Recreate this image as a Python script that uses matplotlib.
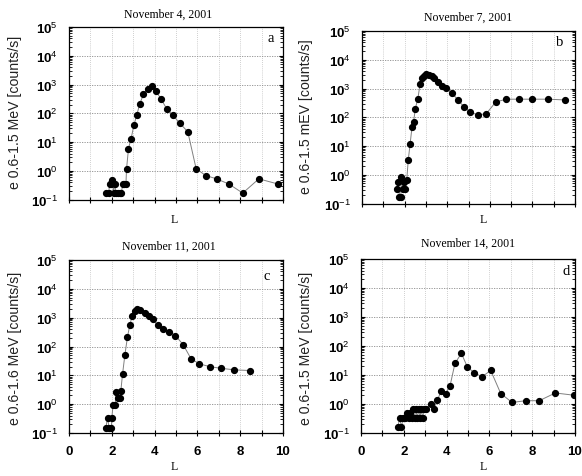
import matplotlib
matplotlib.use("Agg")
import matplotlib.pyplot as plt
import numpy as np
from matplotlib.ticker import LogLocator, FixedLocator, NullFormatter, FuncFormatter

plt.rcParams['mathtext.fontset'] = 'custom'
plt.rcParams['mathtext.rm'] = 'Liberation Sans'
plt.rcParams['mathtext.bf'] = 'Liberation Sans:bold'

# ---- data ----
titles = ["November 4, 2001", "November 7, 2001", "November 11, 2001", "November 14, 2001"]
letters = ["a", "b", "c", "d"]
ylabels = ["e 0.6-1.5 MeV [counts/s]", "e 0.6-1.5 mEV [counts/s]",
           "e 0.6-1.6 MeV [counts/s]", "e 0.6-1.5 MeV [counts/s]"]

L_a = [1.75, 1.85, 1.9, 1.97, 2.03, 2.08, 2.13, 2.2, 2.28, 2.36, 2.44, 2.52, 2.58, 2.66,
       2.69, 2.78, 2.9, 3.03, 3.16, 3.31, 3.48, 3.67, 3.86, 4.06, 4.31, 4.56, 4.86, 5.17,
       5.55, 5.94, 6.39, 6.9, 7.47, 8.12, 8.87, 9.77]
v_a = [0.17, 0.17, 0.35, 0.35, 0.5, 0.17, 0.35, 0.17, 0.17, 0.17, 0.17, 0.35, 0.35, 0.35,
       1.2, 6, 13, 38, 85, 215, 460, 720, 870, 590, 310, 145, 85, 46,
       23, 1.2, 0.69, 0.53, 0.35, 0.17, 0.53, 0.35]

L_b = [1.63, 1.70, 1.76, 1.82, 1.85, 1.92, 1.98, 2.04, 2.10, 2.17, 2.26, 2.35, 2.42, 2.5,
       2.62, 2.73, 2.83, 2.92, 3.01, 3.14, 3.27, 3.39, 3.58, 3.77, 3.96, 4.22, 4.51, 4.77,
       5.09, 5.45, 5.84, 6.28, 6.78, 7.35, 7.99, 8.71, 9.54]
v_b = [0.33, 0.54, 0.17, 0.17, 0.85, 0.33, 0.54, 0.33, 0.65, 3.2, 12, 47, 67, 195,
       435, 1450, 2340, 2800, 3080, 3000, 2700, 2300, 1750, 1200, 1020, 690, 400, 235,
       150, 120, 134, 340, 425, 425, 425, 425, 400]

L_c = [1.72, 1.8, 1.875, 1.98, 2.0, 2.06, 2.16, 2.19, 2.30, 2.375, 2.42, 2.5, 2.61, 2.73,
       2.84, 2.95, 3.08, 3.20, 3.34, 3.53, 3.72, 3.91, 4.14, 4.41, 4.69, 4.97, 5.33, 5.70,
       6.09, 6.58, 7.11, 7.73, 8.44]
v_c = [0.15, 0.33, 0.15, 0.15, 0.33, 0.97, 0.97, 2.6, 1.6, 1.6, 2.8, 10.7, 50, 210,
       540, 1150, 1700, 1950, 1830, 1480, 1150, 870, 550, 415, 320, 240, 117, 38,
       25, 20, 17.5, 15.5, 14.7]

L_d = [1.72, 1.81, 1.89, 1.97, 2.05, 2.14, 2.22, 2.3, 2.37, 2.44, 2.5, 2.56, 2.63, 2.69,
       2.75, 2.81, 2.88, 2.94, 3.06, 3.25, 3.41, 3.56, 3.75, 3.95, 4.16, 4.39, 4.69, 4.97,
       5.28, 5.66, 6.06, 6.53, 7.06, 7.69, 8.33, 9.08, 9.97]
v_d = [0.16, 0.33, 0.16, 0.33, 0.33, 0.5, 0.33, 0.5, 0.33, 0.65, 0.33, 0.65, 0.33, 0.65,
       0.33, 0.65, 0.33, 0.65, 0.65, 1.0, 0.68, 1.33, 2.8, 2.3, 4.2, 25, 56, 19,
       12, 8.7, 14.4, 2.3, 1.13, 1.3, 1.3, 2.4, 2.0]

series = [(L_a, v_a), (L_b, v_b), (L_c, v_c), (L_d, v_d)]

W, H = 582, 477
fig = plt.figure(figsize=(W / 100, H / 100), dpi=100)

# axes boxes in pixels: left, top, right, bottom
boxes = [(69, 28, 283, 200.7), (362, 32, 575, 204.5), (69, 261, 283, 434), (361, 260, 575, 434)]
title_pos = [(168, 15), (468, 18), (169, 247), (468, 244)]
ylab_pos = [(15, 112), (306, 117), (15, 348), (306, 348)]
letter_pos = [(271, 39), (560, 43), (267, 277), (566, 272)]
xlab_pos = [(174, 220), (483, 220), (174, 467), (483, 467)]

def fmt_y(v, pos):
    e = int(round(np.log10(v)))
    return r'$\mathbf{10}^{%d}$' % e

for i, ((l, t, r, b), (xs, ys)) in enumerate(zip(boxes, series)):
    ax = fig.add_axes([l / W, 1 - b / H, (r - l) / W, (b - t) / H])
    ax.set_yscale('log')
    ax.set_xlim(0, 10)
    ax.set_ylim(0.1, 1e5)
    ax.plot(xs, ys, '-', color='#808080', lw=0.7, zorder=2)
    ax.plot(xs, ys, 'o', color='black', ms=4.2, zorder=3, mec='black')
    ax.yaxis.set_major_locator(LogLocator(base=10, numticks=10))
    ax.yaxis.set_minor_locator(LogLocator(base=10, subs=np.arange(2, 10), numticks=10))
    ax.yaxis.set_major_formatter(FuncFormatter(fmt_y))
    ax.yaxis.set_minor_formatter(NullFormatter())
    ax.xaxis.set_major_locator(FixedLocator(np.arange(0, 11, 2)))
    ax.xaxis.set_minor_locator(FixedLocator(np.arange(1, 10, 2)))
    ax.grid(True, which='major', axis='y', color='#8a8a8a', ls=(0, (1.5, 1.5)), lw=0.6)
    ax.grid(True, which='both', axis='x', color='#c0c0c0', ls=(0, (1, 1.5)), lw=0.6)
    ax.tick_params(axis='y', which='major', direction='in', length=3, width=0.8,
                   left=True, right=True, labelsize=9.5, pad=8)
    ax.tick_params(axis='y', which='minor', direction='in', length=2, width=0.6,
                   left=True, right=True)
    ax.tick_params(axis='x', which='both', direction='inout', length=4, width=0.8,
                   top=False, labelsize=9.5, pad=7)
    for lab in ax.get_xticklabels():
        lab.set_fontfamily('Liberation Sans')
        lab.set_fontweight('bold')
    if i < 2:
        ax.tick_params(axis='x', labelbottom=False)
    for s in ax.spines.values():
        s.set_linewidth(0.9)
    fig.text(title_pos[i][0] / W, 1 - title_pos[i][1] / H, titles[i],
             family='Liberation Serif', fontsize=8.5, ha='center', va='center')
    fig.text(ylab_pos[i][0] / W, 1 - ylab_pos[i][1] / H, ylabels[i],
             family='Liberation Sans', fontsize=10.2, ha='center', va='center', rotation=90,
             color='#222222')
    fig.text(letter_pos[i][0] / W, 1 - letter_pos[i][1] / H, letters[i],
             family='Liberation Serif', fontsize=10.5, ha='center', va='center')
    fig.text(xlab_pos[i][0] / W, 1 - xlab_pos[i][1] / H, 'L',
             family='Liberation Serif', fontsize=8.5, ha='center', va='center')

fig.savefig('out.png', dpi=100)
